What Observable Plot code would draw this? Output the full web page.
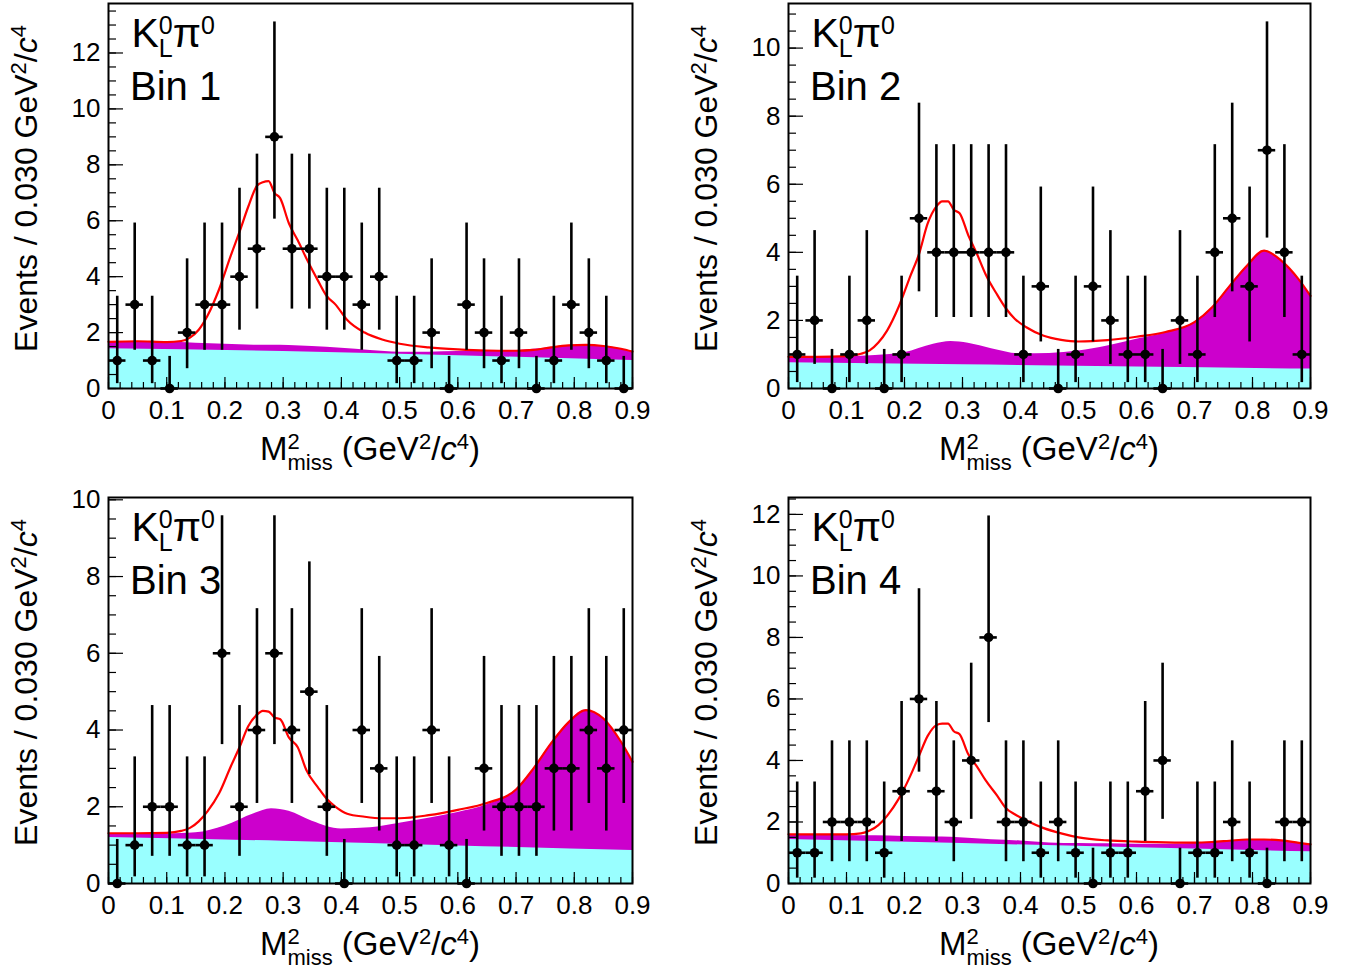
<!DOCTYPE html>
<html><head><meta charset="utf-8">
<script src="https://cdn.jsdelivr.net/npm/d3@7"></script>
<script src="https://cdn.jsdelivr.net/npm/@observablehq/plot@0.6"></script>
<style>
html,body{margin:0;padding:0;background:#fff;}
#root{position:relative;width:1361px;height:971px;overflow:hidden;background:#fff;}
.panel{position:absolute;}
</style></head><body><div id="root"></div>
<script>
const FONT = '"Liberation Sans", Arial, Helvetica, sans-serif';

// Bin centres of M^2_miss (GeV^2/c^4), bin width 0.030
const binCenters = [0.015,0.045,0.075,0.105,0.135,0.165,0.195,0.225,0.255,0.285,0.315,0.345,0.375,0.405,0.435,0.465,0.495,0.525,0.555,0.585,0.615,0.645,0.675,0.705,0.735,0.765,0.795,0.825,0.855,0.885];
const binHalfWidth = 0.015;

// Event counts per bin
const counts1 = [1,3,1,0,2,3,3,4,5,9,5,5,4,4,3,4,1,1,2,0,3,2,1,2,0,1,3,2,1,0];
const counts2 = [1,2,0,1,2,0,1,5,4,4,4,4,4,1,3,0,1,3,2,1,1,0,2,1,4,5,3,7,4,1];
const counts3 = [0,1,2,2,1,1,6,2,4,6,4,5,2,0,4,3,1,1,4,1,0,3,2,2,2,3,3,4,3,4];
const counts4 = [1,1,2,2,2,1,3,6,3,2,4,8,2,2,1,2,1,0,1,1,3,4,0,1,1,2,1,0,2,2];

// 68% Poisson interval bounds indexed by count n
const poissonLow  = [0, 0.173, 0.708, 1.367, 2.086, 2.840, 3.620, 4.419, 5.232, 6.057];
const poissonHigh = [1.148, 3.300, 4.638, 5.918, 7.163, 8.382, 9.584, 10.77, 11.95, 13.11];

// Axis ticks and labels
const xTicks = [0,0.1,0.2,0.3,0.4,0.5,0.6,0.7,0.8,0.9];
const xTickLabels = ["0","0.1","0.2","0.3","0.4","0.5","0.6","0.7","0.8","0.9"];
const yTicks1 = [0,2,4,6,8,10,12];
const yTicks2 = [0,2,4,6,8,10];
const yTicks3 = [0,2,4,6,8,10];
const yTicks4 = [0,2,4,6,8,10,12];
const yMax = [13.77, 11.31, 10.06, 12.55];
const binLabels = ["Bin 1","Bin 2","Bin 3","Bin 4"];

// Total fit (red)
const fitX = [0,0.05,0.1,0.125,0.14,0.155,0.17,0.19,0.21,0.225,0.24,0.255,0.265,0.275,0.285,0.295,0.31,0.325,0.34,0.36,0.375,0.39,0.41,0.44,0.47,0.5,0.55,0.6,0.65,0.7,0.73,0.76,0.79,0.82,0.85,0.88,0.9];
const fit1 = [1.67,1.69,1.66,1.7,1.82,2.1,2.6,3.55,4.75,5.6,6.5,7.25,7.38,7.42,7.0,6.8,5.9,5.3,4.65,3.85,3.3,3.0,2.45,2.0,1.75,1.6,1.47,1.4,1.36,1.35,1.38,1.47,1.54,1.56,1.52,1.42,1.32];
const fit2 = [0.93,0.93,0.95,1.02,1.12,1.35,1.7,2.4,3.3,3.95,4.85,5.35,5.5,5.5,5.25,5.15,4.5,3.95,3.35,2.75,2.35,2.05,1.8,1.55,1.43,1.38,1.42,1.52,1.66,1.95,2.38,3.0,3.6,4.05,3.75,3.2,2.72];
const fit3 = [1.31,1.31,1.32,1.37,1.45,1.62,1.88,2.35,3.05,3.55,4.1,4.4,4.5,4.48,4.33,4.28,3.8,3.55,2.95,2.5,2.2,2.0,1.82,1.74,1.7,1.7,1.78,1.92,2.1,2.45,3.0,3.65,4.2,4.52,4.3,3.7,3.17];
const fit4 = [1.6,1.6,1.6,1.63,1.72,1.9,2.2,2.75,3.5,4.15,4.8,5.15,5.2,5.2,4.95,4.85,4.2,3.8,3.35,2.85,2.45,2.25,2.05,1.8,1.63,1.5,1.4,1.36,1.34,1.33,1.35,1.39,1.43,1.43,1.4,1.32,1.27];

// Total background (magenta top)
const bkgX = [0,0.05,0.1,0.15,0.2,0.25,0.28,0.31,0.35,0.4,0.45,0.5,0.55,0.6,0.65,0.7,0.73,0.76,0.79,0.82,0.85,0.88,0.9];
const bkg1 = [1.67,1.68,1.66,1.62,1.58,1.55,1.55,1.54,1.5,1.44,1.36,1.3,1.3,1.32,1.33,1.35,1.4,1.47,1.54,1.56,1.52,1.42,1.32];
const bkg2 = [0.93,0.93,0.94,0.97,1.05,1.3,1.38,1.33,1.17,1.02,1.03,1.1,1.25,1.45,1.63,1.95,2.38,3.0,3.6,4.05,3.75,3.2,2.72];
const bkg3 = [1.28,1.28,1.29,1.32,1.5,1.82,1.95,1.88,1.62,1.42,1.45,1.57,1.7,1.85,2.05,2.45,3.0,3.65,4.2,4.52,4.3,3.7,3.17];
const bkg4 = [1.57,1.57,1.56,1.55,1.53,1.51,1.5,1.47,1.42,1.38,1.32,1.3,1.29,1.28,1.28,1.3,1.33,1.38,1.42,1.43,1.38,1.3,1.24];

// Cyan background component
const cyanX = [0,0.3,0.6,0.9];
const cyan1 = [1.42,1.32,1.17,1.0];
const cyan2 = [0.76,0.7,0.63,0.57];
const cyan3 = [1.2,1.1,0.98,0.86];
const cyan4 = [1.43,1.3,1.16,1.03];

const panels = [
  {counts: counts1, fit: fit1, bkg: bkg1, cyan: cyan1, yTicks: yTicks1, yMax: yMax[0], bin: binLabels[0], left: 0,   top: 0,   width: 680, height: 490, mr: 48, mb: 102},
  {counts: counts2, fit: fit2, bkg: bkg2, cyan: cyan2, yTicks: yTicks2, yMax: yMax[1], bin: binLabels[1], left: 680, top: 0,   width: 681, height: 490, mr: 51, mb: 102},
  {counts: counts3, fit: fit3, bkg: bkg3, cyan: cyan3, yTicks: yTicks3, yMax: yMax[2], bin: binLabels[2], left: 0,   top: 494, width: 680, height: 477, mr: 48, mb: 88},
  {counts: counts4, fit: fit4, bkg: bkg4, cyan: cyan4, yTicks: yTicks4, yMax: yMax[3], bin: binLabels[3], left: 680, top: 494, width: 681, height: 477, mr: 51, mb: 88}
];

const ML = 108, MT = 3;
const xMinor = d3.range(0, 0.9001, 0.02);

function richText(svg, {x, y, rotate = 0, anchor = "start", parts}) {
  const t = d3.select(svg).append("text")
    .attr("font-family", FONT).attr("fill", "black").attr("text-anchor", "start")
    .attr("transform", `translate(${x},${y}) rotate(${rotate})`);
  let shift = 0, prev = null;
  for (const p of parts) {
    const ts = t.append("tspan").text(p.t).attr("font-size", p.size);
    if (p.italic) ts.attr("font-style", "italic");
    const target = p.shift || 0;
    const dy = -(target - shift);
    if (dy) ts.attr("dy", dy);
    shift = target;
    if (p.stack && prev) ts.attr("dx", -prev.node().getComputedTextLength());
    prev = ts;
  }
  if (anchor !== "start") {
    const bb = t.node().getBBox();
    const off = anchor === "end" ? bb.x + bb.width : bb.x + bb.width / 2;
    t.attr("x", -off);
  }
}

const root = document.getElementById("root");
for (const P of panels) {
  const plotW = P.width - ML - P.mr;
  const plotH = P.height - MT - P.mb;
  const rows = binCenters.map((c, i) => ({
    x: c, n: P.counts[i],
    lo: poissonLow[P.counts[i]], hi: poissonHigh[P.counts[i]],
    x1: c - binHalfWidth, x2: c + binHalfWidth
  }));
  const fitRows = fitX.map((x, i) => ({x, y: P.fit[i]}));
  const bkgRows = bkgX.map((x, i) => ({x, y: P.bkg[i]}));
  const cyanRows = cyanX.map((x, i) => ({x, y: P.cyan[i]}));
  const yMinor = d3.range(0, P.yMax, 0.5);

  const svg = Plot.plot({
    width: P.width, height: P.height,
    marginLeft: ML, marginRight: P.mr, marginTop: MT, marginBottom: P.mb,
    style: {fontFamily: FONT, fontSize: "26px", color: "black", background: "white", overflow: "visible"},
    x: {domain: [0, 0.9], label: null},
    y: {domain: [0, P.yMax], label: null},
    marks: [
      Plot.areaY(bkgRows, {x: "x", y: "y", fill: "#cc00cc", curve: "monotone-x"}),
      Plot.areaY(cyanRows, {x: "x", y: "y", fill: "#99ffff", curve: "monotone-x"}),
      Plot.line(fitRows, {x: "x", y: "y", stroke: "#ff0000", strokeWidth: 2.2, curve: "monotone-x"}),
      Plot.ruleX(rows, {x: "x", y1: "lo", y2: "hi", stroke: "black", strokeWidth: 2.6}),
      Plot.ruleY(rows, {y: "n", x1: "x1", x2: "x2", stroke: "black", strokeWidth: 2.6}),
      Plot.dot(rows, {x: "x", y: "n", r: 4.8, fill: "black", stroke: "none"}),
      Plot.tickX(xMinor, {x: d => d, insetTop: plotH - 6, stroke: "black", strokeWidth: 1.2}),
      Plot.tickX(xTicks, {x: d => d, insetTop: plotH - 11, stroke: "black", strokeWidth: 1.2}),
      Plot.tickY(yMinor, {y: d => d, insetRight: plotW - 8, stroke: "black", strokeWidth: 1.2}),
      Plot.tickY(P.yTicks, {y: d => d, insetRight: plotW - 15, stroke: "black", strokeWidth: 1.2}),
      Plot.axisX({ticks: xTicks, tickFormat: d => xTickLabels[xTicks.indexOf(d)], tickSize: 0, tickPadding: 12, fontSize: 26, label: null}),
      Plot.axisY({ticks: P.yTicks, tickFormat: d => String(d), tickSize: 0, tickPadding: 8, fontSize: 26, label: null}),
      Plot.frame({stroke: "black", strokeWidth: 2})
    ]
  });
  const div = document.createElement("div");
  div.className = "panel";
  div.style.left = P.left + "px";
  div.style.top = P.top + "px";
  div.appendChild(svg);
  root.appendChild(div);

  // Decay mode label
  richText(svg, {x: ML + 23.5, y: MT + 43.7, parts: [
    {t: "K", size: 41},
    {t: "0", size: 25, shift: 13},
    {t: "L", size: 25, shift: -10, stack: true},
    {t: "\u03c0", size: 41, shift: 0},
    {t: "0", size: 25, shift: 13}
  ]});
  richText(svg, {x: ML + 22, y: MT + 97, parts: [{t: P.bin, size: 40}]});

  // x-axis title
  richText(svg, {x: ML + plotW / 2, y: MT + plotH + 72, anchor: "middle", parts: [
    {t: "M", size: 33},
    {t: "2", size: 22, shift: 11},
    {t: "miss", size: 22, shift: -10, stack: true},
    {t: " (GeV", size: 33, shift: 0},
    {t: "2", size: 22, shift: 11},
    {t: "/", size: 33, shift: 0},
    {t: "c", size: 33, italic: true},
    {t: "4", size: 22, shift: 11},
    {t: ")", size: 33, shift: 0}
  ]});

  // y-axis title
  richText(svg, {x: 37, y: MT + 22, rotate: -90, anchor: "end", parts: [
    {t: "Events / 0.030 GeV", size: 32},
    {t: "2", size: 22, shift: 11},
    {t: "/", size: 32, shift: 0},
    {t: "c", size: 32, italic: true},
    {t: "4", size: 22, shift: 11}
  ]});
}
</script>
</body></html>
